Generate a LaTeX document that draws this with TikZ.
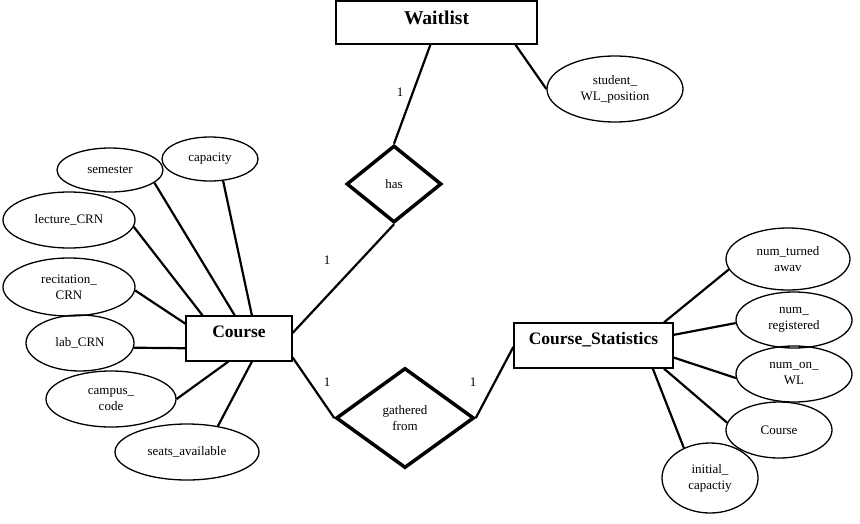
\documentclass[tikz,border=0pt]{standalone}
\usepackage{fontspec}
\setmainfont{Liberation Serif}
\usetikzlibrary{shapes.geometric,calc}
\begin{document}
\begin{tikzpicture}[x=1pt,y=-1pt,
  attr/.style={draw, ellipse, line width=1.3pt, inner sep=0pt, align=center, font=\fontsize{13}{16}\selectfont},
  entity/.style={draw, rectangle, line width=1.3pt, inner sep=0pt, minimum height=45pt, text depth=24pt, text height=21pt, font=\bfseries\fontsize{17.5}{20}\selectfont},
  rel/.style={draw, diamond, line width=3.5pt, inner sep=0pt, align=center, font=\fontsize{13}{16}\selectfont},
  conn/.style={line width=2.2pt},
  card/.style={font=\fontsize{13}{16}\selectfont, inner sep=0pt}]
\useasboundingbox (0,0) rectangle (860,523);
% entities
\node[entity, minimum width=201pt, minimum height=43pt, text height=23pt, text depth=20pt, font=\bfseries\fontsize{19.5}{22}\selectfont] (wait) at (436.5,22.5) {Waitlist};
\node[entity, minimum width=106pt] (course) at (239,338.5) {Course};
\node[entity, minimum width=159pt] (stats) at (593.5,345.5) {Course\_Statistics};
% relationships
\node[rel, minimum width=95pt, minimum height=77pt] (has) at (394,184) {has};
\node[rel, minimum width=138pt, minimum height=100pt] (gath) at (405,418) {gathered\\from};
% attributes
\node[attr, minimum width=136pt, minimum height=66pt] (swl) at (615,89) {student\_\\WL\_position};
\node[attr, minimum width=106pt, minimum height=44pt] (sem) at (110,170) {semester};
\node[attr, minimum width=96pt, minimum height=44pt] (cap) at (210,159) {capacity};
\node[attr, minimum width=132pt, minimum height=56pt] (lec) at (69,220) {lecture\_CRN};
\node[attr, minimum width=132pt, minimum height=58pt] (rec) at (69,287) {recitation\_\\CRN};
\node[attr, minimum width=108pt, minimum height=56pt] (lab) at (80,343) {lab\_CRN};
\node[attr, minimum width=130pt, minimum height=56pt] (camp) at (111,399) {campus\_\\code};
\node[attr, minimum width=144pt, minimum height=56pt] (seats) at (187,452) {seats\_available};
\node[attr, minimum width=124pt, minimum height=62pt] (turn) at (788,259) {num\_turned\\awav};
\node[attr, minimum width=116pt, minimum height=56pt] (reg) at (794,320) {num\_\\registered};
\node[attr, minimum width=116pt, minimum height=56pt] (onwl) at (794,374) {num\_on\_\\WL};
\node[attr, minimum width=106pt, minimum height=56pt] (cattr) at (779,430) {Course};
\node[attr, minimum width=96pt, minimum height=70pt] (init) at (710,478) {initial\_\\capactiy};
% connectors: waitlist
\draw[conn] ($(wait.south west)!0.47!(wait.south east)$) -- (has.north);
\draw[conn] ($(wait.south west)!0.89!(wait.south east)$) -- (swl.180);
\draw[conn] (has.south) -- ($(course.north east)!0.38!(course.south east)$);
\draw[conn] ($(course.north east)!0.91!(course.south east)$) -- (gath.west);
\draw[conn] (gath.east) -- ($(stats.north west)!0.53!(stats.south west)$);
% course attributes
\draw[conn] (sem.-16) -- ($(course.north west)!0.46!(course.north east)$);
\draw[conn] (cap.-59) -- ($(course.north west)!0.62!(course.north east)$);
\draw[conn] (lec.-6) -- ($(course.north west)!0.16!(course.north east)$);
\draw[conn] (rec.-3) -- ($(course.north west)!0.18!(course.south west)$);
\draw[conn] (lab.-5) -- ($(course.north west)!0.71!(course.south west)$);
\draw[conn] (camp.0) -- ($(course.south west)!0.40!(course.south east)$);
\draw[conn] (seats.40) -- ($(course.south west)!0.62!(course.south east)$);
% stats attributes
\draw[conn] ($(stats.north west)!0.94!(stats.north east)$) -- (turn.-170);
\draw[conn] ($(stats.north east)!0.27!(stats.south east)$) -- (reg.-177);
\draw[conn] ($(stats.north east)!0.76!(stats.south east)$) -- (onwl.-176);
\draw[conn] ($(stats.south west)!0.94!(stats.south east)$) -- (cattr.172);
\draw[conn] ($(stats.south west)!0.87!(stats.south east)$) -- (init.131);
% cardinalities
\node[card] (c1) at (400,92) {1};
\node[card] (c2) at (327,260) {1};
\node[card] (c3) at (327,382) {1};
\node[card] (c4) at (473,382) {1};
\end{tikzpicture}
\end{document}
